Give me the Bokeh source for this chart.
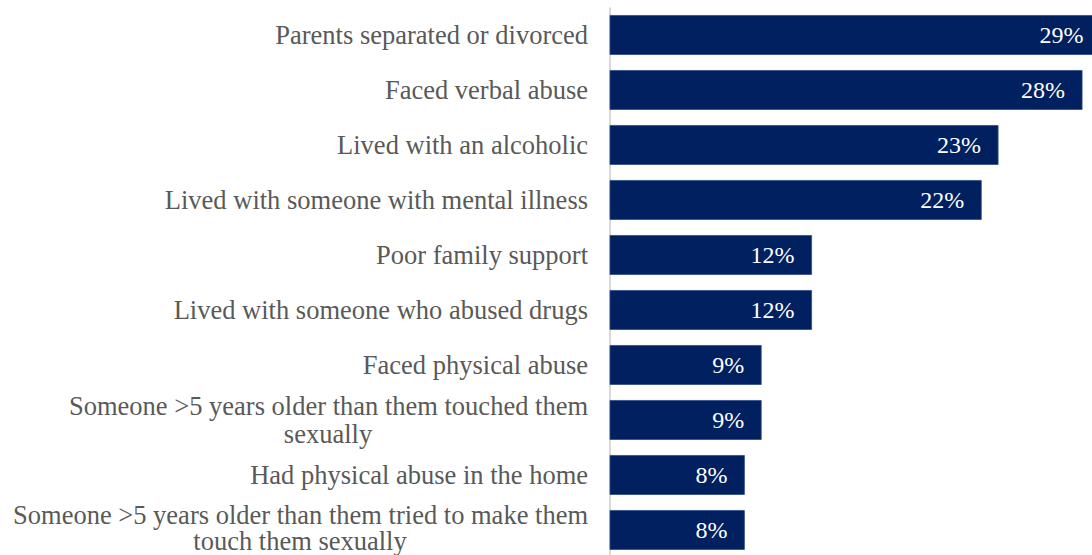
import numpy as np
from bokeh.plotting import figure
from bokeh.models import Range1d, ColumnDataSource
from bokeh.core.properties import value
from bokeh.embed import file_html
from bokeh.resources import INLINE

# ---- data (top to bottom) ----
categories = [
    "Parents separated or divorced",
    "Faced verbal abuse",
    "Lived with an alcoholic",
    "Lived with someone with mental illness",
    "Poor family support",
    "Lived with someone who abused drugs",
    "Faced physical abuse",
    "Someone >5 years older than them touched them sexually",
    "Had physical abuse in the home",
    "Someone >5 years older than them tried to make them touch them sexually",
]
values = [29.2, 28.1, 23.1, 22.1, 12.0, 12.0, 9.0, 9.0, 8.0, 8.0]
value_labels = ["29%", "28%", "23%", "22%", "12%", "12%", "9%", "9%", "8%", "8%"]

# line wrapping of the long category names (first line / rest)
wrap_first = {
    7: "Someone >5 years older than them touched them",
    9: "Someone >5 years older than them tried to make them",
}

# ---- style ----
BAR = "#002060"
LABEL_GRAY = "#595959"
FONT = value("Liberation Serif")
LABEL_GAP = 22       # px between category label and axis line
LINE_SHIFTS = {7: (-14, 14), 9: (-15, 11)}   # px offsets for two-line labels
SECOND_LINE_CENTER = {7: 282, 9: 310}        # px left of axis for centred 2nd line

n = len(categories)
ypos = list(range(n - 1, -1, -1))

p = figure(width=1092, height=555,
           x_range=Range1d(-36.28, 28.72), y_range=Range1d(-0.464, 9.627),
           output_backend="svg", toolbar_location=None, min_border=0,
           x_axis_location=None, y_axis_location=None)
p.grid.visible = False
p.outline_line_color = None
p.background_fill_color = "white"
p.border_fill_color = "white"

# axis line at zero
p.segment(x0=[0], y0=[-0.5 - 1], x1=[0], y1=[n - 0.5], line_color="#d9d9d9", line_width=2)

src = ColumnDataSource(dict(y=ypos, v=values, lab=value_labels))
p.hbar(y="y", left=0, right="v", height=0.71, source=src,
       fill_color=BAR, line_color="#2F4B8C", line_width=0.8)

p.text(x="v", y="y", text="lab", source=src, x_offset=-17,
       text_align="right", text_baseline="middle", text_color="white",
       text_font=FONT, text_font_size="24px")

# category labels
lx, ly, lt, lxo, lyo, lal = [], [], [], [], [], []
for i, cat in enumerate(categories):
    y = ypos[i]
    if i in wrap_first:
        first = wrap_first[i]
        rest = cat[len(first):].strip()
        lx += [0, 0]; ly += [y, y]; lt += [first, rest]
        lxo += [-LABEL_GAP, -SECOND_LINE_CENTER[i]]
        lyo += list(LINE_SHIFTS[i])
        lal += ["right", "center"]
    else:
        lx.append(0); ly.append(y); lt.append(cat)
        lxo.append(-LABEL_GAP); lyo.append(0); lal.append("right")

lsrc = ColumnDataSource(dict(x=lx, y=ly, t=lt, xo=lxo, yo=lyo, al=lal))
p.text(x="x", y="y", text="t", source=lsrc, x_offset="xo", y_offset="yo",
       text_align="al", text_baseline="middle", text_color=LABEL_GRAY,
       text_font=FONT, text_font_size="26.5px")

open("out.html", "w").write(file_html(p, INLINE))
